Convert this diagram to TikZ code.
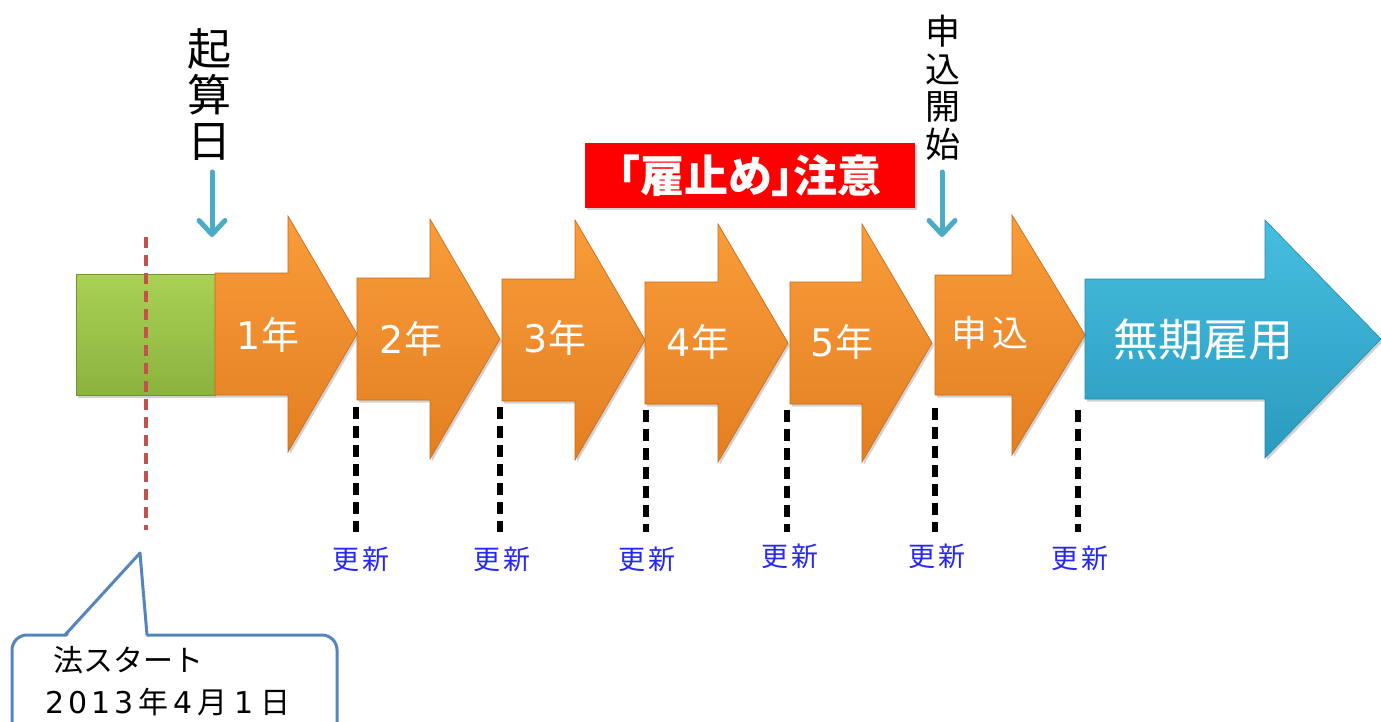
\documentclass[tikz,border=0pt]{standalone}
\usepackage{fontspec}
\setmainfont{Noto Sans CJK JP}
\newfontfamily\digfont{DejaVu Sans}
\newfontfamily\cjkpalt[RawFeature=+palt]{Noto Sans CJK JP}
\usetikzlibrary{arrows.meta,shadows}
\definecolor{orgtop}{HTML}{FA9C3A}
\definecolor{orgbot}{HTML}{E27F22}
\definecolor{orgline}{HTML}{C96A14}
\definecolor{blutop}{HTML}{46BEDF}
\definecolor{blubot}{HTML}{2A9BBE}
\definecolor{bluline}{HTML}{2389A8}
\definecolor{grntop}{HTML}{AAD055}
\definecolor{grnbot}{HTML}{8BB33D}
\definecolor{grnline}{HTML}{6F9430}
\definecolor{callblue}{HTML}{5585BD}
\definecolor{redline}{HTML}{C6504E}
\definecolor{ptrblue}{HTML}{4BACC6}
\definecolor{koshin}{HTML}{2626F5}
\newcommand{\blockarrow}[7]{%
  \path[#1] (#2,#5-#6) -- (#3,#5-#6) -- (#3,#5-#7) -- (#4,#5) -- (#3,#5+#7) -- (#3,#5+#6) -- (#2,#5+#6) -- cycle;}
\newcommand{\dg}[1]{{\digfont #1}}
\tikzset{
  shad/.style={drop shadow={opacity=0.35, shadow xshift=2pt, shadow yshift=-2.5pt}},
  orangearrow/.style={shad, top color=orgtop, bottom color=orgbot, draw=orgline, line width=0.6pt},
  bluearrow/.style={shad, top color=blutop, bottom color=blubot, draw=bluline, line width=0.6pt},
  greenbox/.style={shad, top color=grntop, bottom color=grnbot, draw=grnline, line width=0.6pt},
  arrlabel/.style={text=white, font=\fontsize{38}{40}\selectfont, inner sep=0pt},
  vlabel/.style={align=center, inner sep=0pt, text=black},
  ptr/.style={draw=ptrblue, line width=5pt, line cap=round,
    -{Straight Barb[length=14pt,width=26pt,line cap=round,line join=round]}},
  renew/.style={draw=black, line width=5.5pt, dash pattern=on 12pt off 7pt},
  koshinlabel/.style={text=koshin, font=\fontsize{27}{29}\selectfont, inner sep=0pt},
  callout/.style={draw=callblue, line width=3pt, fill=white},
}
\begin{document}
\begin{tikzpicture}[x=1pt,y=-1pt]
\useasboundingbox (0,0) rectangle (1381,722);
\fill[white] (0,0) rectangle (1381,722);

% green box
\path[greenbox] (76,274) rectangle (215,395);

% orange arrows
\blockarrow{orangearrow}{215}{288}{357}{334}{61}{118}
\blockarrow{orangearrow}{357}{430}{500}{339}{61}{120}
\blockarrow{orangearrow}{502}{575}{645}{340}{61}{120}
\blockarrow{orangearrow}{645}{718}{788}{343}{61}{119}
\blockarrow{orangearrow}{790}{862}{932}{343}{61}{119}
\blockarrow{orangearrow}{935}{1012}{1085}{335}{60}{120}
% blue arrow
\blockarrow{bluearrow}{1085}{1265}{1381}{339}{60}{119}

% arrow labels
\node[arrlabel] (y1) at (268,335) {\dg{1}年};
\node[arrlabel] (y2) at (411,339) {\dg{2}年};
\node[arrlabel] (y3) at (555,338) {\dg{3}年};
\node[arrlabel] (y4) at (698,342) {\dg{4}年};
\node[arrlabel] (y5) at (842,342) {\dg{5}年};
\node[arrlabel, font=\fontsize{36}{38}\selectfont] (moushi) at (990,333) {申\,込};
\node[arrlabel, font=\fontsize{45}{47}\selectfont] (muki) at (1203,340) {無期雇用};

% red dashed line
\draw[redline, line width=4pt, dash pattern=on 11pt off 7pt] (146,237) -- (146,530);

% renewal dashed lines
\foreach \xx/\ya/\nm in {356/407/r1, 500/407/r2, 646/410/r3, 787/410/r4, 935/408/r5, 1078/410/r6}{
  \coordinate (\nm a) at (\xx,\ya);
  \coordinate (\nm b) at (\xx,532);
  \draw[renew] (\nm a) -- (\nm b);
}
\node[koshinlabel] (k1) at (361,559) {更\kern3pt新};
\node[koshinlabel] (k2) at (502,559) {更\kern3pt新};
\node[koshinlabel] (k3) at (647,559) {更\kern3pt新};
\node[koshinlabel] (k4) at (790,556) {更\kern3pt新};
\node[koshinlabel] (k5) at (937,556) {更\kern3pt新};
\node[koshinlabel] (k6) at (1080,558) {更\kern3pt新};

% 起算日
\node[vlabel, font=\fontsize{44}{46}\selectfont] (kisan) at (209,95) {起\\算\\日};
\coordinate (kisanA) at (212,172);
\coordinate (kisanB) at (212,237);
\draw[ptr] (kisanA) -- (kisanB);

% 申込開始
\node[vlabel, font=\fontsize{35}{37.5}\selectfont] (kaishi) at (943,88) {申\\込\\開\\始};
\coordinate (kaishiA) at (942,172);
\coordinate (kaishiB) at (942,237);
\draw[ptr] (kaishiA) -- (kaishiB);

% red warning box
\node[shad, fill=red, minimum width=330pt, minimum height=65pt, inner sep=0pt,
      text=white, font=\cjkpalt\bfseries\fontsize{44}{46}\selectfont] (yatoi) at (750,175.5) {「雇止め」注意};

% callout
\draw[callout, rounded corners=15pt] (12,635) rectangle (337,770);
\fill[white] (66,637.5) -- (140,553) -- (146.5,637.5) -- cycle;
\coordinate (cA) at (65,635);
\coordinate (cB) at (140,553);
\coordinate (cC) at (147,635);
\draw[draw=callblue, line width=3pt, line join=round] (cA) -- (cB) -- (cC);
\node[anchor=west, inner sep=0pt, font=\fontsize{30}{32}\selectfont] (ho) at (53,660) {法スタート};
\node[anchor=west, inner sep=0pt, font=\fontsize{30}{32}\selectfont] (hi) at (45,702)
  {\dg{2\kern4pt0\kern4pt1\kern4pt3}\kern5pt年\kern5pt\dg{4}\kern5pt月\kern7pt\dg{1}\kern7pt日};
\end{tikzpicture}
\end{document}
